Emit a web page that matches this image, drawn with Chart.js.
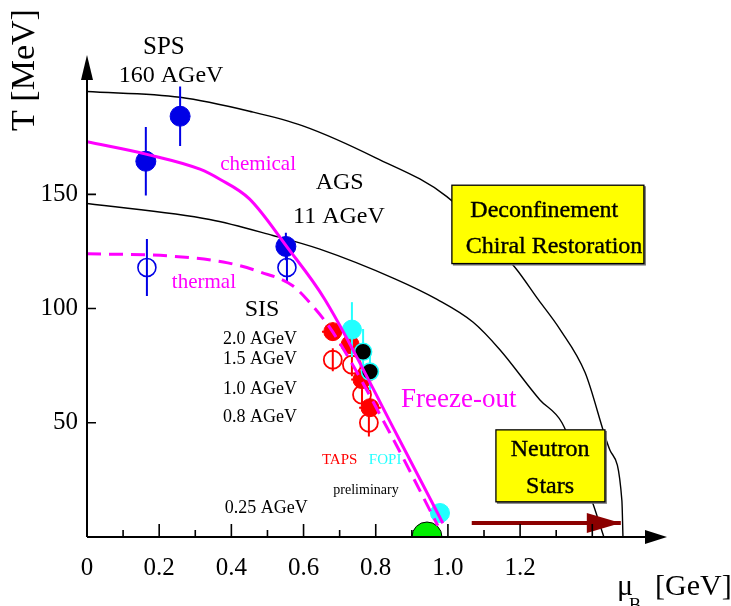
<!DOCTYPE html>
<html>
<head>
<meta charset="utf-8">
<title>Freeze-out phase diagram</title>
<script src="https://cdn.jsdelivr.net/npm/chart.js@4.4.1/dist/chart.umd.min.js"></script>
<style>
  html, body { margin: 0; padding: 0; background: #fff; }
</style>
</head>
<body>
<canvas id="chart" width="731" height="606"></canvas>
<script>
// axis ticks
const xTickValues = [0, 0.2, 0.4, 0.6, 0.8, 1.0, 1.2];
const xTickLabels = ['0', '0.2', '0.4', '0.6', '0.8', '1.0', '1.2'];
const xMajorTicks = [0.2, 0.4, 0.6, 0.8, 1.0, 1.2, 1.4];
const xMinorTicks = [0.1, 0.3, 0.5, 0.7, 0.9, 1.1, 1.3];
const yTickValues = [50, 100, 150];
const yTickLabels = ['50', '100', '150'];

// phase boundaries (black)
const outerMu = [0, 0.258, 0.45, 0.598, 0.8, 0.997, 1.186, 1.25, 1.31, 1.38, 1.449, 1.482, 1.485];
const outerT  = [195, 192.5, 186.4, 180, 166, 149, 118, 104, 91, 72, 38, 16, 0];
const innerMu = [0, 0.34, 0.515, 0.645, 0.853, 0.97, 1.07, 1.144, 1.255, 1.316, 1.40, 1.432];
const innerT  = [146, 139, 132, 126, 113, 104, 94, 82, 60, 50, 15.4, 0];

// freeze-out curves (magenta)
const chemMu  = [0, 0.166, 0.313, 0.368, 0.45, 0.554, 0.659, 0.861, 0.986];
const chemT   = [173, 167.5, 161, 156.6, 148, 127, 104, 44, 6];
const thermMu = [0, 0.23, 0.39, 0.48, 0.57, 0.626, 0.68, 0.839, 0.972];
const thermT  = [124, 123, 120, 116, 110, 101, 90, 45.6, 5];

// SPS / AGS points
const blueFillMu  = [0.163, 0.258, 0.551];
const blueFillT   = [164.5, 184.2, 127.2];
const blueFillErr = [15, 13, 6];
const blueOpenMu  = [0.166, 0.554];
const blueOpenT   = [118, 118];
const blueOpenErr = [12.5, 6.5];

// SIS points: TAPS (red), FOPI (cyan / black)
const tapsFillMu  = [0.681, 0.729, 0.762, 0.784];
const tapsFillT   = [89.9, 84.2, 68.9, 56.6];
const tapsFillErr = [4, 4, 4, 4];
const tapsFillMuErr = [0.03, 0.03, 0.03, 0.03];
const tapsOpenMu  = [0.681, 0.734, 0.762, 0.781];
const tapsOpenT   = [77.6, 75.4, 62.3, 50];
const tapsOpenErr = [5, 5, 5, 6];
const fopiMu  = [0.734, 0.978];
const fopiT   = [90.8, 10.5];
const fopiErr = [12, 0];
const fopiDarkMu  = [0.765, 0.784];
const fopiDarkT   = [81.1, 72.4];
const fopiDarkErr = [10, 8];
const groundMu = [0.942];
const groundT  = [0];

// neutron star arrow
const arrowMu = [1.066, 1.479];
const arrowT  = [6.1, 6.1];

const MAGENTA = '#ff00ff';
const BLUE = '#0000e6';
const RED = '#ff0000';
const CYAN = '#22ffff';

function pts(mu, t) {
    return mu.map((m, i) => ({ x: m, y: t[i] }));
}

function vErr(mu, t, err) {
    const out = [];
    mu.forEach((m, i) => {
        if (!err[i]) return;
        out.push({ x: m, y: t[i] - err[i] }, { x: m, y: t[i] + err[i] }, { x: m, y: null });
    });
    return out;
}

function hErr(mu, t, err) {
    const out = [];
    mu.forEach((m, i) => {
        out.push({ x: m - err[i], y: t[i] }, { x: m + err[i], y: t[i] }, { x: null, y: null });
    });
    return out;
}

function curve(data, color, width, order, dash) {
    return {
        data: data, showLine: true, borderColor: color, borderWidth: width,
        borderDash: dash || [], pointRadius: 0, cubicInterpolationMode: 'monotone', order: order
    };
}

function bars(data, color, order) {
    return { data: data, showLine: true, borderColor: color, borderWidth: 2, pointRadius: 0, spanGaps: false, order: order };
}

function marks(data, fill, border, r, bw, order) {
    return {
        data: data, showLine: false, pointRadius: r, pointBackgroundColor: fill,
        pointBorderColor: border, pointBorderWidth: bw, order: order
    };
}

// text annotations in data units
const labels = [
    { text: 'SPS', mu: 0.213, t: 214.5, size: 25 },
    { text: '160 AGeV', mu: 0.233, t: 201.8, size: 24 },
    { text: 'chemical', mu: 0.474, t: 163, size: 21, color: MAGENTA },
    { text: 'AGS', mu: 0.70, t: 155.3, size: 24 },
    { text: '11 AGeV', mu: 0.698, t: 140.4, size: 24 },
    { text: 'thermal', mu: 0.324, t: 111.5, size: 21, color: MAGENTA },
    { text: 'SIS', mu: 0.485, t: 99.6, size: 24 },
    { text: '2.0 AGeV', mu: 0.377, t: 86.4, size: 18, align: 'left' },
    { text: '1.5 AGeV', mu: 0.377, t: 77.6, size: 18, align: 'left' },
    { text: '1.0 AGeV', mu: 0.377, t: 64.5, size: 18, align: 'left' },
    { text: '0.8 AGeV', mu: 0.377, t: 52.6, size: 18, align: 'left' },
    { text: '0.25 AGeV', mu: 0.382, t: 12.7, size: 18, align: 'left' },
    { text: 'TAPS', mu: 0.70, t: 33.8, size: 15, color: RED },
    { text: 'FOPI', mu: 0.826, t: 33.8, size: 15, color: CYAN },
    { text: 'preliminary', mu: 0.773, t: 20.6, size: 14 },
    { text: 'Freeze-out', mu: 1.03, t: 60, size: 27, color: MAGENTA }
];

const boxes = [
    { mu0: 1.011, mu1: 1.543, t0: 119.7, t1: 154,
      lines: [{ text: 'Deconfinement', mu: 1.267, t: 143 }, { text: 'Chiral Restoration', mu: 1.294, t: 127 }] },
    { mu0: 1.133, mu1: 1.435, t0: 15.4, t1: 46.9,
      lines: [{ text: 'Neutron', mu: 1.283, t: 38 }, { text: 'Stars', mu: 1.283, t: 22 }] }
];

const SERIF = '"Liberation Serif", "Times New Roman", serif';

const decorations = {
    id: 'decorations',
    afterDatasetsDraw(chart) {
        const { ctx, chartArea: a, scales: { x, y } } = chart;
        ctx.save();

        // arrow head of the neutron star arrow
        const tipX = x.getPixelForValue(arrowMu[1]);
        const tipY = y.getPixelForValue(arrowT[1]);
        ctx.fillStyle = '#8b0000';
        ctx.beginPath();
        ctx.moveTo(tipX, tipY);
        ctx.lineTo(tipX - 34, tipY - 10);
        ctx.lineTo(tipX - 34, tipY + 10);
        ctx.closePath();
        ctx.fill();

        // axes with arrows
        ctx.strokeStyle = '#000';
        ctx.fillStyle = '#000';
        ctx.lineWidth = 2;
        ctx.beginPath();
        ctx.moveTo(a.left, a.bottom);
        ctx.lineTo(a.right - 12, a.bottom);
        ctx.moveTo(a.left, a.bottom);
        ctx.lineTo(a.left, a.top + 12);
        ctx.stroke();
        ctx.beginPath();
        ctx.moveTo(a.right, a.bottom);
        ctx.lineTo(a.right - 22, a.bottom - 7);
        ctx.lineTo(a.right - 22, a.bottom + 7);
        ctx.closePath();
        ctx.fill();
        ctx.beginPath();
        ctx.moveTo(a.left, a.top);
        ctx.lineTo(a.left - 6, a.top + 25);
        ctx.lineTo(a.left + 6, a.top + 25);
        ctx.closePath();
        ctx.fill();

        // inward ticks
        ctx.lineWidth = 1.6;
        ctx.beginPath();
        xMajorTicks.forEach(v => {
            const px = x.getPixelForValue(v);
            ctx.moveTo(px, a.bottom);
            ctx.lineTo(px, a.bottom - 13);
        });
        xMinorTicks.forEach(v => {
            const px = x.getPixelForValue(v);
            ctx.moveTo(px, a.bottom);
            ctx.lineTo(px, a.bottom - 7);
        });
        yTickValues.forEach(v => {
            const py = y.getPixelForValue(v);
            ctx.moveTo(a.left, py);
            ctx.lineTo(a.left + 9, py);
        });
        ctx.stroke();

        // boxes
        boxes.forEach(b => {
            const x0 = x.getPixelForValue(b.mu0), x1 = x.getPixelForValue(b.mu1);
            const y0 = y.getPixelForValue(b.t1), y1 = y.getPixelForValue(b.t0);
            ctx.fillStyle = '#777';
            ctx.fillRect(x0 + 1, y0 + 1, x1 - x0 + 1, y1 - y0 + 1);
            ctx.fillStyle = '#ffff00';
            ctx.fillRect(x0, y0, x1 - x0, y1 - y0);
            ctx.lineWidth = 1.3;
            ctx.strokeStyle = '#000';
            ctx.strokeRect(x0, y0, x1 - x0, y1 - y0);
            ctx.fillStyle = '#000';
            ctx.strokeStyle = '#000';
            ctx.lineWidth = 0.4;
            ctx.font = '24px ' + SERIF;
            ctx.textAlign = 'center';
            ctx.textBaseline = 'middle';
            b.lines.forEach(l => {
                const lx = x.getPixelForValue(l.mu), ly = y.getPixelForValue(l.t);
                ctx.fillText(l.text, lx, ly);
                ctx.strokeText(l.text, lx, ly);
            });
        });

        // labels
        labels.forEach(l => {
            ctx.font = l.size + 'px ' + SERIF;
            ctx.fillStyle = l.color || '#000';
            ctx.textAlign = l.align || 'center';
            ctx.textBaseline = 'middle';
            ctx.fillText(l.text, x.getPixelForValue(l.mu), y.getPixelForValue(l.t));
        });

        // axis titles
        ctx.fillStyle = '#000';
        ctx.save();
        ctx.translate(a.left - 62, a.top + 15);
        ctx.rotate(-Math.PI / 2);
        ctx.font = '34px ' + SERIF;
        ctx.textAlign = 'center';
        ctx.textBaseline = 'middle';
        ctx.fillText('T [MeV]', 0, 0);
        ctx.restore();

        ctx.textAlign = 'left';
        ctx.textBaseline = 'alphabetic';
        ctx.font = '30px ' + SERIF;
        ctx.fillText('\u03bc', a.right - 50, a.bottom + 58);
        ctx.font = '18px ' + SERIF;
        ctx.fillText('B', a.right - 38, a.bottom + 74);
        ctx.font = '30px ' + SERIF;
        ctx.fillText('[GeV]', a.right - 12, a.bottom + 58);

        ctx.restore();
    }
};

Chart.defaults.font.family = SERIF;
Chart.defaults.color = '#000';

new Chart(document.getElementById('chart'), {
    type: 'scatter',
    data: {
        datasets: [
            curve(pts(outerMu, outerT), '#000', 1.4, 20),
            curve(pts(innerMu, innerT), '#000', 1.4, 20),
            bars(vErr(blueFillMu, blueFillT, blueFillErr), BLUE, 15),
            bars(vErr(blueOpenMu, blueOpenT, blueOpenErr), BLUE, 15),
            bars(vErr(tapsOpenMu, tapsOpenT, tapsOpenErr), RED, 15),
            bars(vErr(tapsFillMu, tapsFillT, tapsFillErr), RED, 15),
            bars(hErr(tapsFillMu, tapsFillT, tapsFillMuErr), RED, 15),
            marks(pts(blueFillMu, blueFillT), BLUE, BLUE, 10, 1, 10),
            marks(pts(blueOpenMu, blueOpenT), 'rgba(0,0,0,0)', BLUE, 9, 1.6, 10),
            marks(pts(tapsOpenMu, tapsOpenT), 'rgba(0,0,0,0)', RED, 9, 1.8, 10),
            marks(pts(tapsFillMu, tapsFillT), RED, RED, 9, 1, 9),
            bars(vErr(fopiMu, fopiT, fopiErr), CYAN, 8),
            bars(vErr(fopiDarkMu, fopiDarkT, fopiDarkErr), CYAN, 8),
            marks(pts(fopiMu, fopiT), CYAN, CYAN, 9.5, 1, 7),
            marks(pts(fopiDarkMu, fopiDarkT), '#000', CYAN, 8.5, 1.6, 7),
            marks(pts(groundMu, groundT), '#00ee00', '#000', 15, 1, 7),
            curve(pts(thermMu, thermT), MAGENTA, 3, 3, [14, 8]),
            curve(pts(chemMu, chemT), MAGENTA, 3, 2),
            { data: pts(arrowMu, arrowT), showLine: true, borderColor: '#8b0000', borderWidth: 4, pointRadius: 0, order: 1 }
        ]
    },
    options: {
        responsive: false,
        animation: false,
        events: [],
        layout: { padding: { top: 55, right: 64, left: 0, bottom: 0 } },
        plugins: { legend: { display: false }, tooltip: { enabled: false } },
        scales: {
            x: {
                type: 'linear', min: 0, max: 1.607,
                grid: { display: false, drawTicks: false },
                border: { display: false },
                afterBuildTicks: s => { s.ticks = xTickValues.map(v => ({ value: v })); },
                afterFit: s => { s.height = 69; },
                ticks: { padding: 16, maxRotation: 0, autoSkip: false, font: { size: 25 },
                         callback: (v, i) => xTickLabels[i] }
            },
            y: {
                type: 'linear', min: 0, max: 211,
                grid: { display: false, drawTicks: false },
                border: { display: false },
                afterBuildTicks: s => { s.ticks = yTickValues.map(v => ({ value: v })); },
                afterFit: s => { s.width = 87; },
                ticks: { padding: 9, autoSkip: false, font: { size: 25 },
                         callback: (v, i) => yTickLabels[i] }
            }
        }
    },
    plugins: [decorations]
});
</script>
</body>
</html>
